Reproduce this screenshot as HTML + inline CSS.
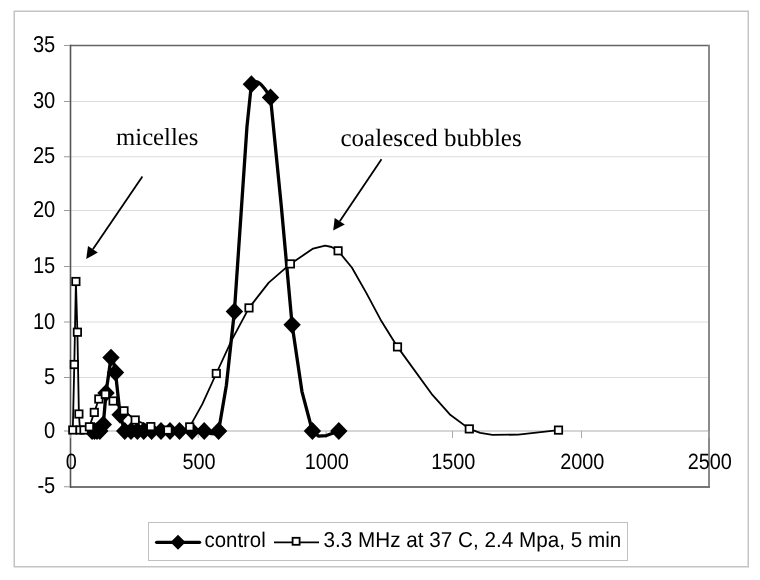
<!DOCTYPE html>
<html><head><meta charset="utf-8"><style>
html,body{margin:0;padding:0;background:#fff;width:760px;height:580px;overflow:hidden;font-family:"Liberation Sans",sans-serif;}
svg{display:block;filter:grayscale(100%);} text{text-rendering:geometricPrecision;}
</style></head><body>
<svg width="760" height="580" viewBox="0 0 760 580">
<rect x="0" y="0" width="760" height="580" fill="#fff"/>
<rect x="14.25" y="11.25" width="734" height="555.5" fill="none" stroke="#c4c4c4" stroke-width="1.5"/>
<line x1="70" y1="101.50" x2="709" y2="101.50" stroke="#dcdcdc" stroke-width="1"/>
<line x1="70" y1="156.75" x2="709" y2="156.75" stroke="#dcdcdc" stroke-width="1"/>
<line x1="70" y1="210.50" x2="709" y2="210.50" stroke="#dcdcdc" stroke-width="1"/>
<line x1="70" y1="266.50" x2="709" y2="266.50" stroke="#dcdcdc" stroke-width="1"/>
<line x1="70" y1="322.00" x2="709" y2="322.00" stroke="#dcdcdc" stroke-width="1"/>
<line x1="70" y1="377.50" x2="709" y2="377.50" stroke="#dcdcdc" stroke-width="1"/>
<line x1="70" y1="431" x2="709" y2="431" stroke="#c8c8c8" stroke-width="1.5"/>
<line x1="70" y1="45.5" x2="710" y2="45.5" stroke="#646464" stroke-width="1.6"/>
<line x1="709" y1="45" x2="709" y2="488" stroke="#8a8a8a" stroke-width="2"/>
<line x1="70" y1="487" x2="710" y2="487" stroke="#767676" stroke-width="2"/>
<line x1="70.5" y1="44.7" x2="70.5" y2="488" stroke="#555" stroke-width="1.6"/>
<line x1="64" y1="45.50" x2="70" y2="45.50" stroke="#999" stroke-width="1"/>
<line x1="64" y1="101.50" x2="70" y2="101.50" stroke="#999" stroke-width="1"/>
<line x1="64" y1="156.75" x2="70" y2="156.75" stroke="#999" stroke-width="1"/>
<line x1="64" y1="210.50" x2="70" y2="210.50" stroke="#999" stroke-width="1"/>
<line x1="64" y1="266.50" x2="70" y2="266.50" stroke="#999" stroke-width="1"/>
<line x1="64" y1="322.00" x2="70" y2="322.00" stroke="#999" stroke-width="1"/>
<line x1="64" y1="377.50" x2="70" y2="377.50" stroke="#999" stroke-width="1"/>
<line x1="64" y1="431.00" x2="70" y2="431.00" stroke="#999" stroke-width="1"/>
<line x1="64" y1="486.75" x2="70" y2="486.75" stroke="#999" stroke-width="1"/>
<line x1="70.50" y1="431" x2="70.50" y2="438" stroke="#aaa" stroke-width="1"/>
<line x1="198.20" y1="431" x2="198.20" y2="438" stroke="#aaa" stroke-width="1"/>
<line x1="326.00" y1="431" x2="326.00" y2="438" stroke="#aaa" stroke-width="1"/>
<line x1="452.50" y1="431" x2="452.50" y2="438" stroke="#aaa" stroke-width="1"/>
<line x1="581.50" y1="431" x2="581.50" y2="438" stroke="#aaa" stroke-width="1"/>
<line x1="709.00" y1="431" x2="709.00" y2="438" stroke="#aaa" stroke-width="1"/>
<text transform="translate(55.3 52.10) scale(0.98 1.12)" text-anchor="end" font-family="Liberation Sans, sans-serif" font-size="20.5" fill="#000">35</text>
<text transform="translate(55.3 108.10) scale(0.98 1.12)" text-anchor="end" font-family="Liberation Sans, sans-serif" font-size="20.5" fill="#000">30</text>
<text transform="translate(55.3 163.35) scale(0.98 1.12)" text-anchor="end" font-family="Liberation Sans, sans-serif" font-size="20.5" fill="#000">25</text>
<text transform="translate(55.3 217.10) scale(0.98 1.12)" text-anchor="end" font-family="Liberation Sans, sans-serif" font-size="20.5" fill="#000">20</text>
<text transform="translate(55.3 273.10) scale(0.98 1.12)" text-anchor="end" font-family="Liberation Sans, sans-serif" font-size="20.5" fill="#000">15</text>
<text transform="translate(55.3 328.60) scale(0.98 1.12)" text-anchor="end" font-family="Liberation Sans, sans-serif" font-size="20.5" fill="#000">10</text>
<text transform="translate(55.3 384.10) scale(0.98 1.12)" text-anchor="end" font-family="Liberation Sans, sans-serif" font-size="20.5" fill="#000">5</text>
<text transform="translate(55.3 437.60) scale(0.98 1.12)" text-anchor="end" font-family="Liberation Sans, sans-serif" font-size="20.5" fill="#000">0</text>
<text transform="translate(55.3 493.35) scale(0.98 1.12)" text-anchor="end" font-family="Liberation Sans, sans-serif" font-size="20.5" fill="#000">-5</text>
<text transform="translate(71.30 469.1) scale(0.97 1.08)" text-anchor="middle" font-family="Liberation Sans, sans-serif" font-size="20.5" fill="#000">0</text>
<text transform="translate(199.00 469.1) scale(0.97 1.08)" text-anchor="middle" font-family="Liberation Sans, sans-serif" font-size="20.5" fill="#000">500</text>
<text transform="translate(326.80 469.1) scale(0.97 1.08)" text-anchor="middle" font-family="Liberation Sans, sans-serif" font-size="20.5" fill="#000">1000</text>
<text transform="translate(453.30 469.1) scale(0.97 1.08)" text-anchor="middle" font-family="Liberation Sans, sans-serif" font-size="20.5" fill="#000">1500</text>
<text transform="translate(582.30 469.1) scale(0.97 1.08)" text-anchor="middle" font-family="Liberation Sans, sans-serif" font-size="20.5" fill="#000">2000</text>
<text transform="translate(709.80 469.1) scale(0.97 1.08)" text-anchor="middle" font-family="Liberation Sans, sans-serif" font-size="20.5" fill="#000">2500</text>
<path d="M72.80,430.00 L74.30,364.50 L75.90,281.50 L77.40,332.20 L78.90,414.00 L80.00,430.00 L81.81,430.86 L84.00,430.00 L86.65,429.23 L89.40,426.80 L94.30,412.40 L98.80,399.00 L101.84,395.39 L105.30,394.30 L113.10,401.00 L124.00,410.80 L135.20,420.00 L150.80,426.60 L167.90,430.10 L178.27,431.66 L184.08,430.94 L189.70,426.90 L202.32,404.10 L216.30,373.50 L231.73,340.11 L249.00,307.90 L268.76,282.62 L290.40,263.90 L313.12,248.59 L325.20,245.67 L331.53,247.00 L338.10,250.80 L351.84,267.48 L366.29,292.91 L381.50,321.31 L397.50,346.90 L431.54,393.83 L449.84,414.41 L469.30,428.90 L480.23,432.92 L492.47,434.91 L518.39,434.62 L558.50,430.10" fill="none" stroke="#000" stroke-width="1.8" stroke-linejoin="round"/>
<path d="M92.10,431.00 L94.50,431.00 L97.00,431.00 L99.80,431.00 L103.30,424.50 L106.00,393.00 L111.00,357.60 L113.27,361.13 L115.50,372.50 L120.10,414.80 L124.70,431.00 L127.74,431.98 L131.00,431.00 L137.40,431.00 L143.70,431.00 L151.60,431.00 L161.00,431.00 L170.00,431.00 L179.50,431.00 L192.10,431.00 L204.20,431.00 L211.32,433.62 L215.82,433.94 L218.60,431.00 L226.34,385.46 L234.40,311.50 L242.69,189.56 L246.97,126.64 L251.40,84.20 C256.60,77.60 262.50,84.50 270.50,97.40 L281.23,205.29 L292.10,324.80 L301.96,391.61 L312.40,431.00 L318.34,436.10 L326.47,435.53 L338.80,431.00" fill="none" stroke="#000" stroke-width="3.3" stroke-linejoin="round" stroke-linecap="round"/>
<g fill="#000"><path d="M92.10,422.10 L100.80,431.00 L92.10,439.90 L83.40,431.00 Z"/><path d="M94.50,422.10 L103.20,431.00 L94.50,439.90 L85.80,431.00 Z"/><path d="M97.00,422.10 L105.70,431.00 L97.00,439.90 L88.30,431.00 Z"/><path d="M99.80,422.10 L108.50,431.00 L99.80,439.90 L91.10,431.00 Z"/><path d="M103.30,415.60 L112.00,424.50 L103.30,433.40 L94.60,424.50 Z"/><path d="M106.00,384.10 L114.70,393.00 L106.00,401.90 L97.30,393.00 Z"/><path d="M111.00,348.70 L119.70,357.60 L111.00,366.50 L102.30,357.60 Z"/><path d="M115.50,363.60 L124.20,372.50 L115.50,381.40 L106.80,372.50 Z"/><path d="M120.10,405.90 L128.80,414.80 L120.10,423.70 L111.40,414.80 Z"/><path d="M124.70,422.10 L133.40,431.00 L124.70,439.90 L116.00,431.00 Z"/><path d="M131.00,422.10 L139.70,431.00 L131.00,439.90 L122.30,431.00 Z"/><path d="M137.40,422.10 L146.10,431.00 L137.40,439.90 L128.70,431.00 Z"/><path d="M143.70,422.10 L152.40,431.00 L143.70,439.90 L135.00,431.00 Z"/><path d="M151.60,422.10 L160.30,431.00 L151.60,439.90 L142.90,431.00 Z"/><path d="M161.00,422.10 L169.70,431.00 L161.00,439.90 L152.30,431.00 Z"/><path d="M170.00,422.10 L178.70,431.00 L170.00,439.90 L161.30,431.00 Z"/><path d="M179.50,422.10 L188.20,431.00 L179.50,439.90 L170.80,431.00 Z"/><path d="M192.10,422.10 L200.80,431.00 L192.10,439.90 L183.40,431.00 Z"/><path d="M204.20,422.10 L212.90,431.00 L204.20,439.90 L195.50,431.00 Z"/><path d="M218.60,422.10 L227.30,431.00 L218.60,439.90 L209.90,431.00 Z"/><path d="M234.40,302.60 L243.10,311.50 L234.40,320.40 L225.70,311.50 Z"/><path d="M251.40,75.30 L260.10,84.20 L251.40,93.10 L242.70,84.20 Z"/><path d="M270.50,88.50 L279.20,97.40 L270.50,106.30 L261.80,97.40 Z"/><path d="M292.10,315.90 L300.80,324.80 L292.10,333.70 L283.40,324.80 Z"/><path d="M312.40,422.10 L321.10,431.00 L312.40,439.90 L303.70,431.00 Z"/><path d="M338.80,422.10 L347.50,431.00 L338.80,439.90 L330.10,431.00 Z"/></g>
<g fill="#fff" stroke="#000" stroke-width="1.75"><rect x="69.10" y="426.30" width="7.40" height="7.40"/><rect x="70.60" y="360.80" width="7.40" height="7.40"/><rect x="72.20" y="277.80" width="7.40" height="7.40"/><rect x="73.70" y="328.50" width="7.40" height="7.40"/><rect x="75.20" y="410.30" width="7.40" height="7.40"/><rect x="76.30" y="426.30" width="7.40" height="7.40"/><rect x="80.30" y="426.30" width="7.40" height="7.40"/><rect x="85.70" y="423.10" width="7.40" height="7.40"/><rect x="90.60" y="408.70" width="7.40" height="7.40"/><rect x="95.10" y="395.30" width="7.40" height="7.40"/><rect x="101.60" y="390.60" width="7.40" height="7.40"/><rect x="109.40" y="397.30" width="7.40" height="7.40"/><rect x="120.30" y="407.10" width="7.40" height="7.40"/><rect x="131.50" y="416.30" width="7.40" height="7.40"/><rect x="147.10" y="422.90" width="7.40" height="7.40"/><rect x="164.20" y="426.40" width="7.40" height="7.40"/><rect x="186.00" y="423.20" width="7.40" height="7.40"/><rect x="212.60" y="369.80" width="7.40" height="7.40"/><rect x="245.30" y="304.20" width="7.40" height="7.40"/><rect x="286.70" y="260.20" width="7.40" height="7.40"/><rect x="334.40" y="247.10" width="7.40" height="7.40"/><rect x="393.80" y="343.20" width="7.40" height="7.40"/><rect x="465.60" y="425.20" width="7.40" height="7.40"/><rect x="554.80" y="426.40" width="7.40" height="7.40"/></g>
<text x="116.1" y="145.4" font-family="Liberation Serif, serif" font-size="24.7" fill="#000">micelles</text>
<text x="340.5" y="145.7" font-family="Liberation Serif, serif" font-size="25" fill="#000">coalesced bubbles</text>
<line x1="142.40" y1="176.40" x2="92.90" y2="249.35" stroke="#000" stroke-width="1.8"/><path d="M86.20,259.10 L88.00,246.10 L97.80,252.60 Z" fill="#000"/>
<line x1="381.50" y1="159.20" x2="339.75" y2="221.15" stroke="#000" stroke-width="1.8"/><path d="M333.20,230.60 L334.70,217.90 L344.80,224.40 Z" fill="#000"/>
<rect x="148.5" y="522.5" width="479" height="38" fill="#fff" stroke="#c0c0c0" stroke-width="1"/>
<line x1="156.6" y1="542.3" x2="199.6" y2="542.3" stroke="#000" stroke-width="3.3" stroke-linecap="round"/>
<g fill="#000"><path d="M178.00,534.80 L185.50,542.30 L178.00,549.80 L170.50,542.30 Z"/></g>
<text transform="translate(204.5 546.8) scale(1 1.04)" font-family="Liberation Sans, sans-serif" font-size="20.4" fill="#000">control</text>
<line x1="274" y1="542.4" x2="319" y2="542.4" stroke="#000" stroke-width="1.9"/>
<g fill="#fff" stroke="#000" stroke-width="1.8"><rect x="292.60" y="537.80" width="7.00" height="7.00"/></g>
<text transform="translate(323.5 546.8) scale(1 1.04)" font-family="Liberation Sans, sans-serif" font-size="20.7" fill="#000">3.3 MHz at 37 C, 2.4 Mpa, 5 min</text>
</svg>
</body></html>
